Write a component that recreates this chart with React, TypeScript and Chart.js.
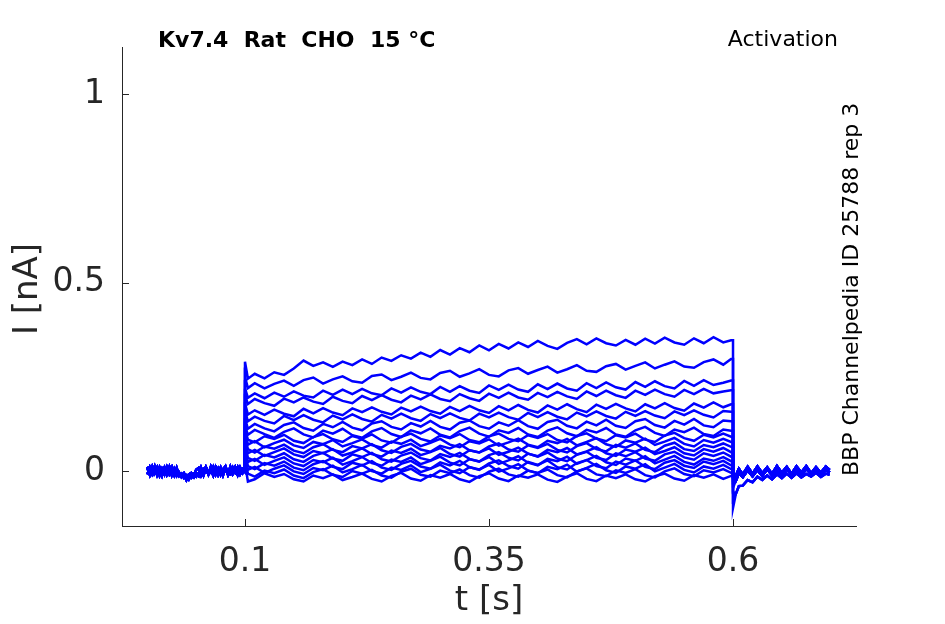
import { useEffect, useRef } from 'react';
import { Chart, registerables } from 'chart.js';
import type { Chart as ChartType } from 'chart.js';

Chart.register(...registerables);

// time grids (s)
const PRE_T = [
  0, 0.0025, 0.005, 0.0075, 0.01, 0.0125, 0.015, 0.0175, 0.02, 0.0225,
  0.025, 0.0275, 0.03, 0.0325, 0.035, 0.0375, 0.04, 0.0425, 0.045, 0.0475,
  0.05, 0.0525, 0.055, 0.0575, 0.06, 0.0625, 0.065, 0.0675, 0.07, 0.0725,
  0.075, 0.0775, 0.08, 0.0825, 0.085, 0.0875, 0.09, 0.0925, 0.095, 0.0975,
  0.1,
];
const STEP_T = [
  0.103, 0.11, 0.12, 0.13, 0.14, 0.15, 0.16, 0.17, 0.18, 0.19,
  0.2, 0.21, 0.22, 0.23, 0.24, 0.25, 0.26, 0.27, 0.28, 0.29,
  0.3, 0.31, 0.32, 0.33, 0.34, 0.35, 0.36, 0.37, 0.38, 0.39,
  0.4, 0.41, 0.42, 0.43, 0.44, 0.45, 0.46, 0.47, 0.48, 0.49,
  0.5, 0.51, 0.52, 0.53, 0.54, 0.55, 0.56, 0.57, 0.58, 0.59,
  0.598,
];
const POST_T = [0.603, 0.606, 0.61, 0.615, 0.62, 0.625, 0.63, 0.635, 0.64, 0.645, 0.65, 0.655, 0.66, 0.665, 0.67, 0.675, 0.68, 0.685, 0.69, 0.695, 0.699];

// all currents below are in pA

// holding current before the step
const PRE_A = [8, -10, 11, -6, 9, -12, 5, -9, 10, -8, 6, -11, 8, -13, -7, -18, -12, -22, -10, -16, -6, -13, 8, -10, 5, -9, 11, -7, 9, -10, 6, -8, 10, -9, 8, -5, 10, -8, 7, -6, 2];
const PRE_B = [-9, 10, -6, 12, -10, 7, -12, 8, -5, 11, -11, 5, -13, -4, -16, -9, -24, -14, -18, -8, -15, -6, 7, -11, 9, -8, 4, -12, 10, -5, 9, -11, 7, -9, 11, -7, 8, -10, 9, -5, 0];
const PRE_C = [11, -5, -11, 7, -8, 10, -4, 9, -10, 4, 12, -8, 6, -12, -14, -6, -17, -9, -5, -15, 3, 8, -11, 5, 10, -8, -3, 11, -9, 6, -10, 5, 12, -7, -9, 9, -4, 10, -8, 5, -2];

// after the step
const POST_A = [-60, -40, -39, -24, -30, -15, -24, -12, -22, -9, -19, -7, -18, -6, -17, -8, -15, -5, -16, -7, -10];
const POST_B = [-25, -6, -16, 2, -14, 3, -13, 5, -11, 0, -13, 6, -10, 1, -12, 6, -9, 2, -11, 4, -4];
const POST_C = [-12, 6, -9, 11, -7, 12, -6, 10, -8, 13, -5, 11, -7, 12, -4, 13, -6, 10, -5, 12, 3];

// step currents, one row per voltage step, sampled at STEP_T
const TRACES = [
  [245, 258, 246, 262, 255, 272, 293, 279, 288, 276, 290, 281, 296, 284, 301, 292, 307, 298, 314, 303, 321, 309, 326, 315, 333, 320, 337, 325, 341, 329, 345, 332, 324, 340, 350, 336, 352, 339, 333, 348, 335, 351, 338, 354, 341, 335, 352, 339, 355, 341, 347],
  [220, 233, 219, 231, 240, 226, 241, 248, 232, 243, 251, 238, 234, 252, 256, 241, 250, 261, 247, 243, 260, 266, 250, 259, 270, 255, 251, 267, 273, 258, 268, 277, 261, 270, 281, 266, 263, 278, 284, 269, 279, 288, 272, 282, 291, 277, 274, 289, 296, 282, 297],
  [194, 206, 193, 208, 197, 211, 200, 195, 213, 202, 216, 204, 218, 206, 201, 219, 208, 222, 210, 204, 223, 210, 225, 213, 207, 227, 215, 229, 216, 210, 230, 217, 232, 219, 213, 233, 220, 235, 222, 216, 236, 223, 238, 225, 219, 239, 226, 241, 228, 234, 240],
  [178, 191, 180, 173, 192, 182, 195, 184, 178, 197, 186, 180, 199, 188, 201, 189, 182, 200, 190, 203, 191, 185, 204, 193, 186, 205, 194, 208, 195, 189, 207, 196, 210, 198, 191, 211, 199, 213, 201, 194, 213, 202, 216, 204, 197, 215, 204, 218, 206, 211, 214],
  [150, 161, 149, 163, 152, 145, 165, 153, 167, 155, 148, 166, 156, 169, 157, 150, 168, 158, 171, 159, 152, 170, 159, 173, 161, 154, 172, 161, 175, 162, 155, 174, 163, 177, 164, 156, 176, 165, 178, 166, 158, 177, 166, 180, 167, 160, 179, 168, 182, 169, 177],
  [132, 144, 133, 126, 146, 135, 148, 136, 129, 147, 137, 150, 138, 131, 149, 139, 152, 140, 133, 151, 140, 153, 141, 134, 152, 142, 155, 143, 136, 154, 143, 156, 144, 137, 155, 145, 158, 146, 139, 157, 146, 159, 147, 140, 158, 148, 161, 149, 142, 159, 157],
  [112, 125, 113, 105, 122, 129, 114, 107, 125, 116, 130, 115, 108, 126, 132, 117, 110, 127, 118, 133, 117, 110, 128, 134, 119, 112, 129, 120, 135, 119, 112, 130, 136, 120, 113, 131, 121, 136, 120, 114, 132, 138, 122, 115, 133, 123, 138, 121, 116, 134, 132],
  [96, 109, 98, 88, 104, 113, 97, 89, 107, 99, 112, 95, 88, 105, 114, 98, 90, 108, 100, 113, 96, 89, 106, 115, 99, 91, 108, 101, 114, 97, 90, 107, 116, 100, 92, 109, 102, 114, 97, 91, 108, 117, 101, 93, 110, 103, 115, 98, 93, 110, 107],
  [83, 76, 92, 85, 96, 80, 74, 90, 98, 84, 77, 93, 86, 97, 81, 75, 91, 99, 85, 78, 94, 87, 98, 82, 76, 92, 99, 85, 79, 95, 88, 98, 82, 76, 93, 100, 86, 79, 95, 89, 99, 83, 77, 94, 101, 87, 80, 96, 89, 99, 91],
  [70, 79, 63, 74, 83, 68, 61, 77, 71, 82, 65, 74, 84, 69, 62, 78, 72, 83, 66, 75, 85, 70, 63, 79, 73, 84, 67, 76, 86, 70, 63, 80, 74, 85, 68, 77, 87, 71, 64, 81, 75, 86, 69, 78, 88, 72, 65, 82, 75, 85, 77],
  [58, 49, 65, 59, 70, 54, 47, 63, 71, 56, 50, 66, 60, 71, 55, 48, 64, 72, 57, 51, 67, 60, 71, 55, 49, 65, 73, 57, 51, 68, 61, 72, 56, 49, 66, 74, 58, 52, 69, 62, 73, 56, 50, 67, 75, 58, 53, 69, 63, 73, 64],
  [47, 56, 40, 50, 60, 44, 37, 53, 47, 58, 41, 49, 60, 45, 38, 54, 48, 59, 42, 50, 61, 45, 38, 55, 49, 60, 43, 51, 62, 46, 39, 56, 50, 61, 44, 52, 63, 47, 40, 57, 51, 62, 45, 53, 63, 47, 41, 58, 51, 61, 50],
  [35, 27, 43, 36, 47, 31, 24, 40, 48, 33, 27, 44, 37, 48, 31, 25, 41, 49, 34, 28, 45, 37, 48, 32, 25, 42, 50, 35, 28, 46, 38, 49, 33, 26, 43, 51, 35, 29, 47, 39, 50, 33, 27, 44, 51, 36, 30, 47, 40, 49, 38],
  [24, 32, 16, 27, 36, 20, 13, 29, 23, 35, 17, 26, 37, 21, 14, 30, 24, 36, 18, 27, 38, 22, 15, 31, 25, 37, 19, 28, 39, 22, 15, 32, 26, 38, 19, 29, 40, 23, 16, 33, 27, 39, 20, 30, 40, 24, 17, 33, 27, 37, 26],
  [13, 5, 21, 14, 25, 9, 2, 18, 26, 11, 5, 22, 15, 26, 9, 3, 19, 27, 12, 6, 23, 15, 27, 10, 3, 20, 28, 13, 6, 24, 16, 28, 10, 4, 21, 29, 13, 7, 25, 17, 28, 11, 5, 22, 29, 14, 8, 25, 18, 27, 15],
  [3, 11, -5, 6, 15, -1, -8, 8, 2, 14, -4, 5, 16, 0, -7, 9, 3, 15, -3, 6, 17, 1, -6, 10, 4, 16, -2, 7, 18, 1, -6, 11, 5, 17, -2, 8, 19, 2, -5, 12, 6, 18, -1, 9, 19, 3, -4, 12, 6, 16, 5],
  [-7, -15, 1, -6, 4, -12, -19, -3, 5, -10, -16, 0, -7, 3, -12, -18, -2, 6, -10, -15, 1, -6, 4, -11, -18, -2, 6, -9, -15, 1, -5, 4, -11, -17, -1, 7, -9, -14, 2, -5, 5, -11, -17, -1, 7, -8, -14, 2, -4, 5, -5],
  [-28, -22, -6, -16, -8, -22, -28, -12, -19, -9, -24, -16, -7, -21, -28, -13, -5, -20, -26, -11, -18, -8, -22, -29, -14, -6, -20, -27, -12, -18, -9, -23, -29, -15, -6, -21, -27, -12, -19, -9, -22, -28, -14, -7, -20, -26, -11, -18, -9, -21, -13],
];
const SPIKE = [290, 250, 220, 200, 180, 160, 140, 120, 110, 100, 90, 80, 70, 60, 50, 40, 30, 20];
const TAIL = [-98, -75, -55, -45, -35, -30, -25, -20, -18, -15, -12, -10, -10, -8, -8, -6, -6, -5];
const PRE_OF = [0, 1, 2, 0, 1, 2, 0, 1, 2, 0, 1, 2, 0, 1, 2, 0, 1, 2];
const POST_OF = [0, 0, 0, 1, 1, 1, 1, 1, 1, 2, 2, 1, 2, 2, 1, 2, 2, 1];

const X_TICKS = [0.1, 0.35, 0.6];
const Y_TICKS = [0, 0.5, 1];

const INK = '#262626';
const FONT = '"DejaVu Sans", sans-serif';

const nA = (pA: number) => pA / 1000;

function buildTrace(i: number) {
  const pre = [PRE_A, PRE_B, PRE_C][PRE_OF[i]];
  const post = [POST_A, POST_B, POST_C][POST_OF[i]];
  const row = TRACES[i];
  const pts: { x: number; y: number }[] = PRE_T.map((t, k) => ({ x: t, y: nA(pre[k]) }));
  pts.push({ x: 0.1, y: nA(SPIKE[i]) });
  STEP_T.forEach((t, k) => {
    if (k < row.length) pts.push({ x: t, y: nA(row[k]) });
  });
  pts.push({ x: 0.6, y: nA(row[row.length - 1]) });
  pts.push({ x: 0.6, y: nA(TAIL[i]) });
  POST_T.forEach((t, k) => pts.push({ x: t, y: nA(post[k]) }));
  return pts;
}

const decorations = {
  id: 'decorations',
  afterDraw(chart: ChartType) {
    const { ctx, chartArea, scales } = chart;
    const xs = scales.x;
    const ys = scales.y;
    ctx.save();
    ctx.strokeStyle = INK;
    ctx.lineWidth = 1;
    ctx.beginPath();
    X_TICKS.forEach((v) => {
      const px = Math.round(xs.getPixelForValue(v)) + 0.5;
      ctx.moveTo(px, chartArea.bottom);
      ctx.lineTo(px, chartArea.bottom - 7);
    });
    Y_TICKS.forEach((v) => {
      const py = Math.round(ys.getPixelForValue(v)) + 0.5;
      ctx.moveTo(chartArea.left, py);
      ctx.lineTo(chartArea.left + 7, py);
    });
    ctx.stroke();

    ctx.fillStyle = '#000';
    ctx.textBaseline = 'alphabetic';
    ctx.font = `bold 22px ${FONT}`;
    ctx.textAlign = 'left';
    ctx.fillText('Kv7.4  Rat  CHO  15 °C', 158, 47);
    ctx.font = `22px ${FONT}`;
    ctx.textAlign = 'right';
    ctx.fillText('Activation', 838, 46);

    ctx.save();
    ctx.translate(858, 476);
    ctx.rotate(-Math.PI / 2);
    ctx.textAlign = 'left';
    ctx.font = `22px ${FONT}`;
    ctx.fillText('BBP Channelpedia ID 25788 rep 3', 0, 0);
    ctx.restore();

    ctx.fillStyle = INK;
    ctx.font = `34px ${FONT}`;
    ctx.textAlign = 'center';
    ctx.textBaseline = 'middle';
    ctx.fillText('t [s]', 489, 601);
    ctx.save();
    ctx.translate(28, 289);
    ctx.rotate(-Math.PI / 2);
    ctx.fillText('I [nA]', 0, 0);
    ctx.restore();
    ctx.restore();
  },
};

export default function App() {
  const canvasRef = useRef<HTMLCanvasElement>(null);
  const chartRef = useRef<ChartType | null>(null);

  useEffect(() => {
    document.body.style.margin = '0';
    if (!canvasRef.current) return;
    const ctx = canvasRef.current.getContext('2d');
    if (!ctx) return;
    if (chartRef.current) chartRef.current.destroy();

    chartRef.current = new Chart(ctx, {
      type: 'line',
      data: {
        datasets: TRACES.map((_, i) => ({
          data: buildTrace(i),
          borderColor: '#0000ff',
          borderWidth: 2.5,
          pointRadius: 0,
          tension: 0,
          fill: false,
        })),
      },
      options: {
        animation: false,
        responsive: false,
        devicePixelRatio: 1,
        parsing: false,
        layout: { padding: { top: 47, right: 89, bottom: 0, left: 0 } },
        plugins: {
          legend: { display: false },
          tooltip: { enabled: false },
        },
        scales: {
          x: {
            type: 'linear',
            min: -0.026,
            max: 0.726,
            afterFit: (s: any) => { s.height = 98; },
            afterBuildTicks: (s: any) => { s.ticks = X_TICKS.map((v) => ({ value: v })); },
            grid: { display: true, drawOnChartArea: false, drawTicks: false },
            border: { display: true, color: INK, width: 1 },
            ticks: {
              color: INK,
              padding: 17,
              font: { family: FONT, size: 33 },
              maxRotation: 0,
              autoSkip: false,
              callback: (v: any) => String(v),
            },
          },
          y: {
            type: 'linear',
            min: -0.146,
            max: 1.125,
            afterFit: (s: any) => { s.width = 122; },
            afterBuildTicks: (s: any) => { s.ticks = Y_TICKS.map((v) => ({ value: v })); },
            grid: { display: true, drawOnChartArea: false, drawTicks: false },
            border: { display: true, color: INK, width: 1 },
            ticks: {
              color: INK,
              padding: 17,
              font: { family: FONT, size: 33 },
              autoSkip: false,
              callback: (v: any) => String(v),
            },
          },
        },
      },
      plugins: [decorations],
    });

    return () => {
      if (chartRef.current) {
        chartRef.current.destroy();
        chartRef.current = null;
      }
    };
  }, []);

  return (
    <div style={{ position: 'fixed', left: 0, top: 0, width: 945, height: 624, background: '#fff' }}>
      <canvas ref={canvasRef} width={945} height={624} />
    </div>
  );
}
